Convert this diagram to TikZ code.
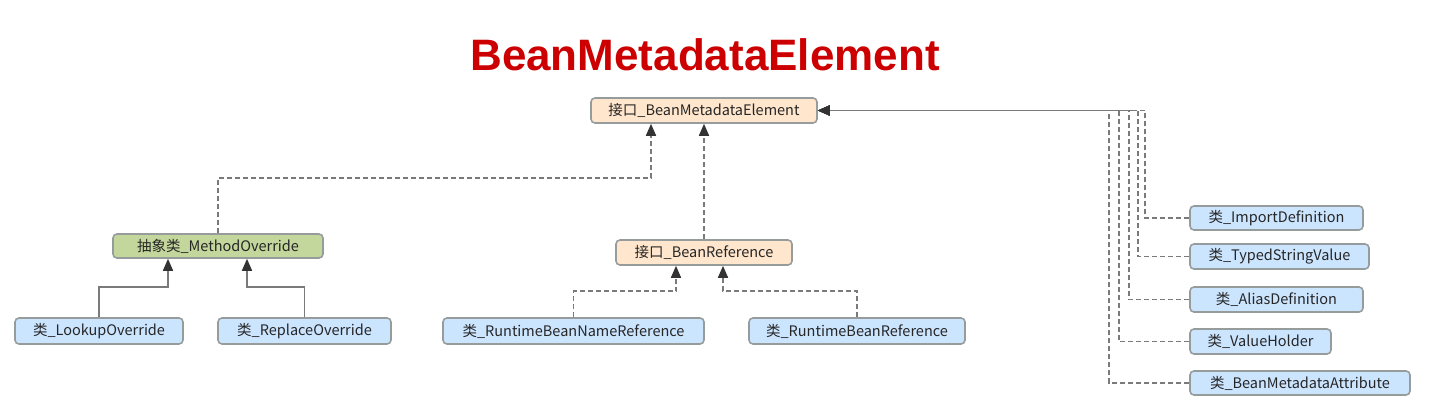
\documentclass[tikz,border=0pt]{standalone}
\usepackage{fontspec}
\setmainfont{Noto Sans CJK SC}
\newfontfamily\titlefont{Liberation Sans}
\usetikzlibrary{arrows.meta}
\definecolor{lnc}{HTML}{7A7A7A}
\definecolor{arc}{HTML}{333333}
\definecolor{bdc}{HTML}{969C9C}
\definecolor{peach}{HTML}{FFE6CC}
\definecolor{greenf}{HTML}{C3D69B}
\definecolor{bluef}{HTML}{CCE5FF}
\definecolor{titlered}{HTML}{CC0000}
\tikzset{
  box/.style={draw=bdc, line width=1.6pt, rounded corners=4pt, inner sep=0pt, font=\fontsize{14.5}{16}\selectfont, text=black!85},
  ifc/.style={box, fill=peach},
  abs/.style={box, fill=greenf},
  cls/.style={box, fill=bluef},
  dep/.style={draw=lnc, line width=1.6pt, dash pattern=on 5pt off 3pt, -{Triangle[length=12pt,width=10pt,fill=arc,color=arc]}},
  inh/.style={draw=lnc, line width=1.6pt, -{Triangle[length=12pt,width=10pt,fill=arc,color=arc]}},
}
\begin{document}
\begin{tikzpicture}[x=1pt,y=-1pt]
\useasboundingbox (0,0) rectangle (1431,414);
\node[font=\titlefont\bfseries\fontsize{44}{50}\selectfont, text=titlered] (title) at (705,55) {BeanMetadataElement};
\node[ifc, minimum width=226pt, minimum height=25pt] (main) at (704,110.5) {接口\_BeanMetadataElement};
\node[abs, minimum width=210pt, minimum height=24pt] (MO) at (218,246) {抽象类\_MethodOverride};
\node[cls, minimum width=168pt, minimum height=26pt] (LO) at (99,331) {类\_LookupOverride};
\node[cls, minimum width=173pt, minimum height=26pt] (RO) at (304.5,331) {类\_ReplaceOverride};
\node[ifc, minimum width=176pt, minimum height=25pt] (BR) at (704,252.5) {接口\_BeanReference};
\node[cls, minimum width=261pt, minimum height=26pt] (RBNR) at (573.5,331) {类\_RuntimeBeanNameReference};
\node[cls, minimum width=216pt, minimum height=26pt] (RBR) at (857,331) {类\_RuntimeBeanReference};
\node[cls, minimum width=173pt, minimum height=24pt] (ID) at (1276.5,218) {类\_ImportDefinition};
\node[cls, minimum width=179pt, minimum height=25pt] (TSV) at (1279.5,256.5) {类\_TypedStringValue};
\node[cls, minimum width=173pt, minimum height=25pt] (AD) at (1276.5,299.5) {类\_AliasDefinition};
\node[cls, minimum width=141pt, minimum height=25pt] (VH) at (1260.5,341.5) {类\_ValueHolder};
\node[cls, minimum width=220pt, minimum height=24pt] (BMA) at (1300,383) {类\_BeanMetadataAttribute};
% connectors
\draw[dep] (MO.north) -- ++(0,-55) -| ([xshift=-53pt]main.south);
\draw[dep] (BR.north) -- (main.south);
\draw[inh] (LO.north) -- ++(0,-30) -| ([xshift=-50pt]MO.south);
\draw[inh] (RO.north) -- ++(0,-30) -| ([xshift=29pt]MO.south);
\draw[dep] (RBNR.north) -- ++(0,-26) -| ([xshift=-28pt]BR.south);
\draw[dep] (RBR.north) -- ++(0,-26) -| ([xshift=19pt]BR.south);
\draw[dep] (ID.west) -| ([xshift=327pt]main.east) -- (main.east);
\draw[dep] (TSV.west) -| ([xshift=320pt]main.east) -- (main.east);
\draw[dep] (AD.west) -| ([xshift=311pt]main.east) -- (main.east);
\draw[dep] (VH.west) -| ([xshift=301pt]main.east) -- (main.east);
\draw[dep] (BMA.west) -| ([xshift=291pt]main.east) -- (main.east);
\end{tikzpicture}
\end{document}
